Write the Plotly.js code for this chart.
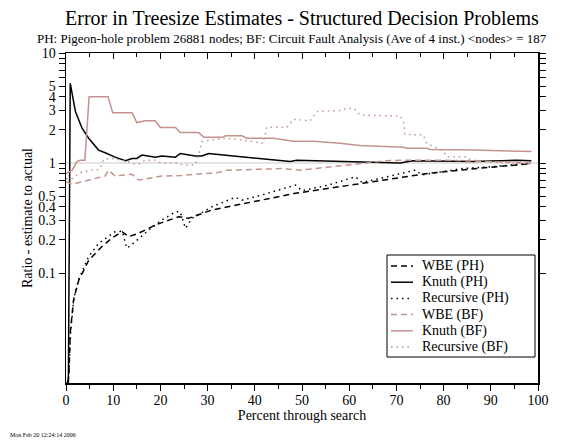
<!DOCTYPE html>
<html>
<head>
<meta charset="utf-8">
<script src="https://cdn.plot.ly/plotly-3.0.1.min.js"></script>
<style>
html,body{margin:0;padding:0;background:#fff;}
#chart{width:563px;height:440px;}
</style>
</head>
<body>
<div id="chart"></div>
<script>
// ---- data ----
const wbePhX = [0.3, 0.6, 0.9, 1.6, 2.7, 4.8, 7.6, 9.8, 11.9, 13.3, 15.4, 18.9, 23.9, 26, 30.9, 38, 48.6, 62.7, 76.8, 88, 98];
const wbePhY = [0.01, 0.0114, 0.0285, 0.057, 0.086, 0.13, 0.174, 0.209, 0.237, 0.214, 0.23, 0.273, 0.325, 0.314, 0.374, 0.43, 0.53, 0.653, 0.806, 0.9, 0.98];

const knuthPhX = [0.5, 0.9, 2.0, 3.4, 4.8, 6.9, 8.3, 10.4, 12.6, 14, 15, 16.1, 18.9, 20.3, 23.2, 24.2, 27.4, 28.8, 30.2, 37.3, 47.5, 48.9, 58, 70.8, 73.5, 86.2, 95.5, 98.6];
const knuthPhY = [0.01, 5.3, 2.93, 2.07, 1.68, 1.31, 1.24, 1.13, 1.05, 1.1, 1.1, 1.18, 1.13, 1.16, 1.13, 1.22, 1.16, 1.16, 1.22, 1.14, 1.03, 1.06, 1.03, 1.0, 1.05, 1.03, 1.06, 1.05];

const recPhX = [0.3, 0.6, 1.0, 1.7, 2.8, 4.8, 6.9, 10.4, 11.9, 12.9, 14.7, 17.5, 20.3, 23.2, 24.2, 25.3, 26.7, 30.9, 35.9, 37.3, 41.5, 48.6, 50, 55.6, 61.3, 62.7, 69.8, 74, 75.4, 83.9, 90.9, 98];
const recPhY = [0.01, 0.012, 0.03, 0.06, 0.09, 0.141, 0.186, 0.237, 0.24, 0.168, 0.193, 0.245, 0.303, 0.36, 0.36, 0.255, 0.314, 0.4, 0.488, 0.46, 0.512, 0.63, 0.56, 0.63, 0.75, 0.665, 0.78, 0.863, 0.78, 0.89, 0.93, 0.99];

const wbeBfX = [0, 1.3, 3.4, 8.3, 9, 10.4, 14, 15.4, 20.3, 24.5, 28.8, 31.8, 34, 46, 49.5, 56.6, 63.7, 67.9, 72.2, 80, 88, 98.6];
const wbeBfY = [0.676, 0.64, 0.676, 0.762, 0.86, 0.762, 0.79, 0.7, 0.76, 0.77, 0.8, 0.81, 0.86, 0.89, 0.86, 0.92, 1.0, 1.05, 1.06, 1.06, 1.03, 1.0];

const knuthBfX = [0, 1.3, 2.3, 3, 4, 4.9, 8.9, 9.9, 14, 15, 16.8, 18.9, 20, 23.2, 24.2, 28.1, 29.2, 33, 33.8, 37.3, 38.3, 43.9, 48.2, 52.5, 58, 62.3, 71.5, 72.2, 76.4, 77.1, 86.3, 95.5, 98.6];
const knuthBfY = [0.8, 0.86, 1.03, 1.06, 1.06, 4.0, 4.0, 2.87, 2.87, 2.33, 2.42, 2.42, 2.1, 2.1, 1.89, 1.89, 1.71, 1.71, 1.77, 1.77, 1.68, 1.68, 1.58, 1.58, 1.51, 1.44, 1.39, 1.36, 1.36, 1.33, 1.31, 1.27, 1.27];

const recBfX = [0, 1.3, 2.3, 3.4, 5.9, 6.9, 7.6, 8, 9.7, 11.9, 14, 15, 16.8, 18.9, 20.3, 23.2, 24.9, 27.4, 28.1, 28.8, 30.9, 33.8, 37.3, 41.8, 42.5, 46.8, 48.2, 51.7, 53.1, 58, 59.5, 61, 62.3, 70.8, 71.5, 71.8, 75.7, 76.4, 79.9, 80.7, 84.9, 85.6, 88.6, 98.9];
const recBfY = [0.72, 0.72, 0.78, 0.83, 0.87, 0.87, 0.96, 1.08, 1.1, 1.06, 1.0, 0.96, 1.06, 1.06, 1.0, 1.0, 0.96, 0.96, 1.18, 1.56, 1.62, 1.68, 1.62, 1.51, 2.11, 2.11, 2.5, 2.41, 2.93, 3.0, 3.14, 3.14, 2.73, 2.67, 2.37, 1.82, 1.8, 1.51, 1.29, 1.14, 1.14, 1.07, 1.03, 0.98];

const seriesNames = ["WBE (PH)", "Knuth (PH)", "Recursive (PH)", "WBE (BF)", "Knuth (BF)", "Recursive (BF)"];

const yTickVals = [0.1,0.2,0.3,0.4,0.5,0.6,0.7,0.8,0.9,1,2,3,4,5,6,7,8,9,10];
const yTickText = ["0.1","0.2","0.3","0.4","0.5","","","","","1","2","3","4","5","","","","","10"];
const xTickVals = [0,10,20,30,40,50,60,70,80,90,100];

const titleText = "Error in Treesize Estimates - Structured Decision Problems";
const subtitleText = "PH: Pigeon-hole problem 26881 nodes; BF: Circuit Fault Analysis (Ave of 4 inst.) &lt;nodes&gt; = 187";
const stampText = "Mon Feb 20 12:24:14 2006";

// ---- styles ----
const BLACK = "#000000";
const PINK = "#c4928f";
const FONT = "Liberation Serif";
const DASH = "6px,4px";
const DOT = "1.5px,4px";
const seriesColors = [BLACK, BLACK, BLACK, PINK, PINK, PINK];
const seriesDash = [DASH, "solid", DOT, DASH, "solid", DOT];
const seriesX = [wbePhX, knuthPhX, recPhX, wbeBfX, knuthBfX, recBfX];
const seriesY = [wbePhY, knuthPhY, recPhY, wbeBfY, knuthBfY, recBfY];

const data = seriesNames.map((n, i) => ({
  x: seriesX[i], y: seriesY[i], name: n, type: "scatter", mode: "lines",
  line: {color: seriesColors[i], width: 1.5, dash: seriesDash[i]},
  hoverinfo: "skip", showlegend: false
}));
// invisible copy on the top axis so its inside ticks are drawn
data.push({x: wbePhX, y: wbePhY, xaxis: "x2", type: "scatter", mode: "lines",
           line: {color: "rgba(0,0,0,0)", width: 0}, showlegend: false, hoverinfo: "skip"});

// ---- legend box drawn in the corner (paper coordinates) ----
const PW = 472, PH = 330;           // plot area size in px
const px2x = p => (p - 66) / PW;
const py2y = p => 1 - (p - 53) / PH;
const legTop = 255, legBottom = 357, legLeft = 387, legRight = 535;
const legRow0 = 266, legStep = 16.2;

const shapes = [
  {type: "line", xref: "paper", x0: 0, x1: 1, yref: "y", y0: 1, y1: 1,
   line: {color: "#dddddd", width: 1.5}, layer: "below"},
  {type: "rect", xref: "paper", yref: "paper",
   x0: px2x(legLeft), x1: px2x(legRight), y0: py2y(legBottom), y1: py2y(legTop),
   line: {color: "#000", width: 1}, fillcolor: "#fff", layer: "above"}
];
const annotations = [
  {text: titleText, xref: "paper", yref: "paper", x: 0.5, y: 1, yshift: 22, xanchor: "center",
   yanchor: "bottom", showarrow: false, font: {family: FONT, size: 20, color: "#000"}},
  {text: subtitleText, xref: "paper", yref: "paper", x: 0.479, y: 1, yshift: 5, xanchor: "center",
   yanchor: "bottom", showarrow: false, font: {family: FONT, size: 13, color: "#000"}},
  {text: stampText, xref: "paper", yref: "paper", x: 0, xshift: -58, y: 0, yshift: -57, xanchor: "left",
   yanchor: "bottom", showarrow: false, font: {family: FONT, size: 6, color: "#000"}}
];
seriesNames.forEach((n, i) => {
  const yy = py2y(legRow0 + i * legStep);
  shapes.push({type: "line", xref: "paper", yref: "paper", x0: px2x(391), x1: px2x(413), y0: yy, y1: yy,
               line: {color: seriesColors[i], width: 1.5, dash: seriesDash[i]}, layer: "above"});
  annotations.push({text: n, xref: "paper", yref: "paper", x: px2x(420), y: yy, xanchor: "left",
                    yanchor: "middle", showarrow: false, font: {family: FONT, size: 14, color: "#000"}});
});

const layout = {
  width: 563, height: 440,
  margin: {l: 66, r: 25, t: 53, b: 57, pad: 0},
  paper_bgcolor: "#fff", plot_bgcolor: "#fff",
  font: {family: FONT, size: 14, color: "#000"},
  showlegend: false,
  xaxis: {range: [0, 100], tickvals: xTickVals, ticks: "outside", ticklen: 6, tickwidth: 1,
          tickcolor: "#000", showline: true, linecolor: "#000", linewidth: 1.5, mirror: true,
          showgrid: false, zeroline: false, ticklabelstandoff: -2,
          minor: {dtick: 5, tick0: 0, ticks: "outside", ticklen: 4, tickcolor: "#000", showgrid: false},
          tickfont: {family: FONT, size: 14},
          title: {text: "Percent through search", font: {family: FONT, size: 14}, standoff: 0}},
  xaxis2: {overlaying: "x", side: "top", range: [0, 100], tickvals: xTickVals, ticks: "inside",
           ticklen: 6, tickcolor: "#000", showticklabels: false, showgrid: false, zeroline: false,
           showline: false,
           minor: {dtick: 5, tick0: 0, ticks: "inside", ticklen: 4, tickcolor: "#000", showgrid: false}},
  yaxis: {type: "log", range: [-2, 1], tickvals: yTickVals, ticktext: yTickText,
          ticks: "outside", ticklen: 6, tickwidth: 1, tickcolor: "#000",
          showline: true, linecolor: "#000", linewidth: 1.5, mirror: "ticks",
          showgrid: false, zeroline: false, tickfont: {family: FONT, size: 14},
          title: {text: "Ratio - estimate to actual", font: {family: FONT, size: 14}, standoff: 2}},
  shapes: shapes,
  annotations: annotations
};

Plotly.newPlot("chart", data, layout, {displayModeBar: false, staticPlot: true});
</script>
</body>
</html>
